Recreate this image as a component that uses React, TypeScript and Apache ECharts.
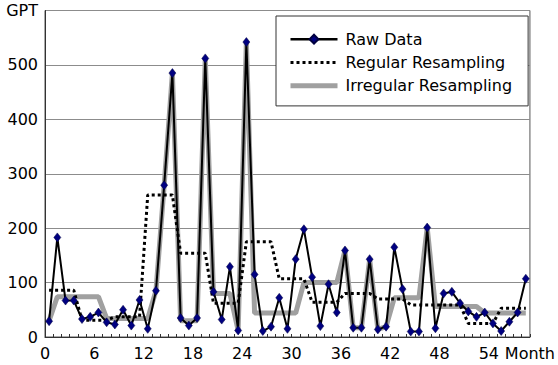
import React, { useEffect, useRef } from 'react';
import * as echarts from 'echarts';

const rawData = [
  29, 183, 67, 67, 33, 37, 45, 27, 23, 50, 21, 68, 15, 85, 279, 485, 35, 21, 35, 512,
  83, 32, 129, 12, 542, 115, 11, 19, 72, 15, 143, 198, 110, 20, 97, 45, 159, 17, 17, 143,
  14, 19, 165, 88, 10, 10, 201, 16, 80, 83, 62, 47, 37, 45, 25, 11, 28, 45, 107,
];

const regularResampling = [
  86, 86, 86, 86, 31, 31, 31, 31, 37, 37, 37, 37, 261, 261, 261, 261, 154, 154, 154, 154,
  62, 62, 62, 62, 175, 175, 175, 175, 107, 107, 107, 107, 64, 64, 64, 64, 80, 80, 80, 80,
  70, 70, 70, 70, 59, 59, 59, 59, 59, 59, 59, 25, 25, 25, 25, 53, 53, 53, 53,
];

const irregularResampling = [
  30, 74, 74, 74, 74, 74, 74, 34, 34, 34, 34, 34, 34, 85, 279, 485, 30, 30, 30, 512,
  80, 80, 80, 12, 542, 44, 44, 44, 44, 44, 44, 100, 100, 100, 100, 100, 159, 17, 17, 143,
  14, 19, 72, 72, 72, 72, 201, 56, 56, 56, 56, 56, 56, 44, 44, 44, 44, 44, 44,
];

const seriesNames = ['Raw Data', 'Regular Resampling', 'Irregular Resampling'];
const xMax = 59;
const xLabelStep = 6;
const xAxisTitle = 'Month';
const yMax = 600;
const yStep = 100;
const yAxisTitle = 'GPT';

const FONT = "'DejaVu Sans', Verdana, sans-serif";

export default function App() {
  const ref = useRef<HTMLDivElement>(null);
  useEffect(() => {
    const chart = echarts.init(ref.current!, null, { renderer: 'svg' });
    const toPts = (arr: number[]) => arr.map((v, i) => [i + 0.5, v]);
    chart.setOption({
      animation: false,
      backgroundColor: '#fff',
      textStyle: { fontFamily: FONT },
      grid: {
        left: 45,
        right: 26,
        top: 10.5,
        bottom: 28,
        show: true,
        borderColor: '#555',
        borderWidth: 1,
      },
      legend: {
        orient: 'vertical',
        left: 276,
        top: 16,
        padding: [14, 16, 11, 12],
        itemWidth: 47,
        itemHeight: 11,
        itemGap: 5,
        backgroundColor: '#fff',
        borderColor: '#333',
        borderWidth: 1,
        borderRadius: 0,
        textStyle: { fontFamily: FONT, fontSize: 16, lineHeight: 18.3, color: '#000', padding: [0, 0, 0, 3] },
        data: [
          { name: seriesNames[0], lineStyle: { width: 2.5 } },
          { name: seriesNames[1], itemStyle: { opacity: 0 }, lineStyle: { width: 3 } },
          { name: seriesNames[2], itemStyle: { opacity: 0 }, lineStyle: { width: 5 } },
        ],
      },
      xAxis: {
        type: 'value',
        min: 0,
        max: xMax,
        interval: 1,
        splitLine: { show: false },
        axisLine: { lineStyle: { color: '#333', width: 1 } },
        axisTick: { show: true, inside: true, length: 3, lineStyle: { color: '#333' } },
        axisLabel: {
          fontFamily: FONT,
          fontSize: 16,
          color: '#000',
          margin: 8,
          showMaxLabel: true,
          formatter: (v: number) =>
            v === xMax ? xAxisTitle : v % xLabelStep === 0 ? String(v) : '',
        },
      },
      yAxis: {
        type: 'value',
        min: 0,
        max: yMax,
        interval: yStep,
        axisLine: { show: true, lineStyle: { color: '#333', width: 1 } },
        axisTick: { show: false },
        splitLine: { lineStyle: { color: '#8c8c8c', width: 1 } },
        axisLabel: {
          fontFamily: FONT,
          fontSize: 16,
          color: '#000',
          margin: 7,
          formatter: (v: number) => (v === yMax ? yAxisTitle : String(v)),
        },
      },
      series: [
        {
          name: seriesNames[2],
          type: 'line',
          data: toPts(irregularResampling),
          symbol: 'none',
          lineStyle: { color: '#a0a0a0', width: 5 },
          itemStyle: { color: '#a0a0a0' },
          z: 1,
        },
        {
          name: seriesNames[1],
          type: 'line',
          data: toPts(regularResampling),
          symbol: 'none',
          lineStyle: { color: '#000', width: 3, type: [3, 3] },
          itemStyle: { color: '#000' },
          z: 2,
        },
        {
          name: seriesNames[0],
          type: 'line',
          data: toPts(rawData),
          symbol: 'diamond',
          symbolSize: [7, 9],
          showAllSymbol: true,
          lineStyle: { color: '#000', width: 2 },
          itemStyle: { color: '#000080', borderColor: '#000040', borderWidth: 0.5 },
          z: 3,
        },
      ],
    });
    return () => chart.dispose();
  }, []);
  return (
    <div
      ref={ref}
      style={{ position: 'fixed', left: 0, top: 0, width: 558, height: 365, background: '#fff' }}
    />
  );
}
